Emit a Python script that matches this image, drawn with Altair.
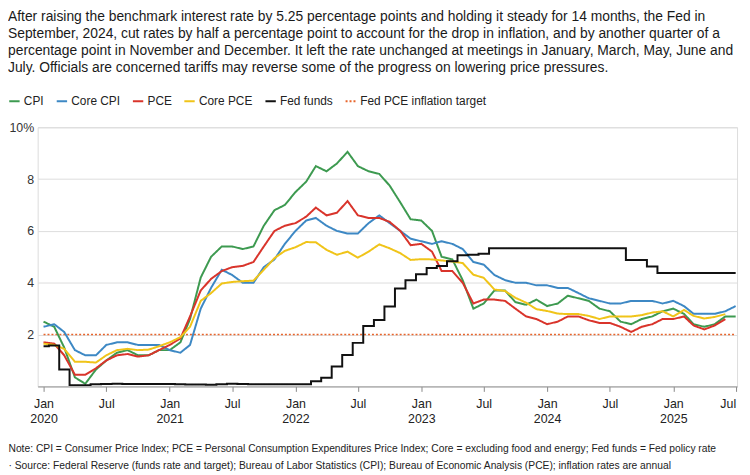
import altair as alt
import pandas as pd

# ---------------- data (monthly, Jan 2020 onward) ----------------
cpi = [2.5, 2.3, 1.5, 0.35, 0.1, 0.65, 1.0, 1.3, 1.4, 1.2, 1.2, 1.4,
       1.4, 1.7, 2.6, 4.2, 5.0, 5.4, 5.4, 5.3, 5.4, 6.2, 6.8, 7.0,
       7.5, 7.9, 8.5, 8.3, 8.6, 9.05, 8.5, 8.3, 8.2, 7.75, 7.1, 6.45,
       6.4, 6.0, 5.0, 4.9, 4.1, 3.0, 3.2, 3.7, 3.7, 3.25, 3.15, 3.35,
       3.1, 3.2, 3.5, 3.4, 3.3, 3.0, 2.9, 2.5, 2.4, 2.6, 2.7, 2.9,
       3.0, 2.8, 2.4, 2.3, 2.4, 2.7, 2.7]
core_cpi = [2.3, 2.4, 2.1, 1.4, 1.2, 1.2, 1.6, 1.7, 1.7, 1.6, 1.6, 1.6,
            1.4, 1.3, 1.6, 3.0, 3.8, 4.5, 4.3, 4.0, 4.0, 4.6, 4.9, 5.5,
            6.0, 6.4, 6.5, 6.2, 6.0, 5.9, 5.9, 6.3, 6.6, 6.3, 6.0, 5.7,
            5.6, 5.5, 5.6, 5.5, 5.3, 4.8, 4.7, 4.3, 4.1, 4.0, 4.0, 3.9,
            3.9, 3.8, 3.8, 3.6, 3.4, 3.3, 3.2, 3.2, 3.3, 3.3, 3.3, 3.2,
            3.3, 3.1, 2.8, 2.8, 2.8, 2.9, 3.1]
pce = [1.7, 1.65, 1.2, 0.45, 0.45, 0.7, 1.0, 1.2, 1.25, 1.15, 1.2, 1.4,
       1.6, 1.85, 2.7, 3.7, 4.15, 4.45, 4.6, 4.65, 4.8, 5.4, 6.0, 6.2,
       6.3, 6.55, 6.9, 6.6, 6.7, 7.15, 6.6, 6.5, 6.5, 6.35, 6.0, 5.45,
       5.5, 5.2, 4.45, 4.45, 4.0, 3.2, 3.35, 3.35, 3.3, 3.0, 2.7, 2.6,
       2.4, 2.5, 2.7, 2.7, 2.55, 2.45, 2.45, 2.3, 2.1, 2.3, 2.4, 2.6,
       2.6, 2.7, 2.35, 2.2, 2.35, 2.6]
core_pce = [1.65, 1.6, 1.45, 0.95, 0.95, 0.92, 1.2, 1.4, 1.45, 1.4, 1.42, 1.55,
            1.7, 1.9, 2.3, 3.3, 3.6, 3.97, 4.03, 4.06, 4.08, 4.5, 4.95, 5.23,
            5.37, 5.57, 5.56, 5.27, 5.08, 5.2, 4.97, 5.2, 5.48, 5.33, 5.14, 4.88,
            4.91, 4.9, 4.86, 4.82, 4.76, 4.31, 4.19, 3.74, 3.68, 3.42, 3.23, 2.98,
            2.91, 2.81, 2.79, 2.79, 2.72, 2.6, 2.7, 2.7, 2.7, 2.75, 2.85, 2.9,
            2.7, 2.95, 2.72, 2.62, 2.68, 2.79]
fed_funds = [1.55, 1.58, 0.65, 0.05, 0.05, 0.08, 0.09, 0.10, 0.09, 0.09, 0.09, 0.09,
             0.09, 0.08, 0.07, 0.07, 0.06, 0.08, 0.10, 0.09, 0.08, 0.08, 0.08, 0.08,
             0.08, 0.08, 0.20, 0.33, 0.77, 1.21, 1.68, 2.33, 2.56, 3.08, 3.78, 4.10,
             4.33, 4.57, 4.65, 4.83, 5.06, 5.08, 5.12, 5.33, 5.33, 5.33, 5.33, 5.33,
             5.33, 5.33, 5.33, 5.33, 5.33, 5.33, 5.33, 5.33, 4.88, 4.88, 4.63, 4.38,
             4.38, 4.38, 4.38, 4.38, 4.38, 4.38, 4.38]
target_value = 2.0

series_names = ["CPI", "Core CPI", "PCE", "Core PCE", "Fed funds", "Fed PCE inflation target"]
series_colors = ["#3d9a50", "#3d88c4", "#d9342b", "#f0c419", "#111111", "#e8652c"]
series_dashes = [[1, 0], [1, 0], [1, 0], [1, 0], [1, 0], [2, 2]]

title_lines = [
    "After raising the benchmark interest rate by 5.25 percentage points and holding it steady for 14 months, the Fed in",
    "September, 2024, cut rates by half a percentage point to account for the drop in inflation, and by another quarter of a",
    "percentage point in November and December. It left the rate unchanged at meetings in January, March, May, June and",
    "July. Officials are concerned tariffs may reverse some of the progress on lowering price pressures.",
]
footnote_lines = [
    "Note: CPI = Consumer Price Index; PCE = Personal Consumption Expenditures Price Index; Core = excluding food and energy; Fed funds = Fed policy rate",
    "\u00b7 Source: Federal Reserve (funds rate and target); Bureau of Labor Statistics (CPI); Bureau of Economic Analysis (PCE); inflation rates are annual",
]

# ---------------- tables ----------------
months = [f"{y}-{m:02d}-01T00:00:00" for y in range(2020, 2026) for m in range(1, 13)]

def long_table(name, vals):
    return pd.DataFrame({"date": months[:len(vals)], "value": vals, "series": name})

infl_df = pd.concat([long_table("CPI", cpi), long_table("Core CPI", core_cpi),
                     long_table("PCE", pce), long_table("Core PCE", core_pce)])
fed_df = long_table("Fed funds", fed_funds)
target_df = long_table("Fed PCE inflation target", [target_value] * len(fed_funds))

FONT = "Liberation Sans"
LEFT = 30

x_ticks = [alt.DateTime(year=y, month=m, date=1) for y in range(2020, 2026) for m in (1, 7)]

x_enc = alt.X(
    "date:T",
    scale=alt.Scale(domain=[alt.DateTime(year=2019, month=12, date=15),
                            alt.DateTime(year=2025, month=7, date=5)]),
    axis=alt.Axis(
        values=x_ticks,
        labelExpr="month(datum.value) == 0 ? ['Jan', '' + year(datum.value)] : 'Jul'",
        labelAlign={"condition": {"test": "year(datum.value) == 2025 && month(datum.value) == 6",
                                  "value": "right"}, "value": "center"},
        labelFontSize=12.5, labelFont=FONT, labelColor="#222222", labelLineHeight=15,
        labelPadding=6, tickSize=5, tickColor="#888888", domainColor="#999999",
        grid=False, labelAngle=0,
        title=footnote_lines, titleFont=FONT, titleFontSize=10.4, titleFontWeight="normal",
        titleColor="#222222", titleAlign="left", titleAnchor="start", titleBaseline="alphabetic",
        titleX=-LEFT, titleY=66, titleLineHeight=16.7,
    ),
)
y_enc = alt.Y(
    "value:Q",
    scale=alt.Scale(domain=[0, 10], nice=False),
    axis=alt.Axis(
        values=[0, 2, 4, 6, 8, 10],
        labelExpr="datum.value == 10 ? '10%' : (datum.value == 0 ? '' : datum.label)",
        labelFontSize=12.5, labelFont=FONT, labelColor="#333333", labelPadding=4,
        ticks=False, domain=False, grid=True, gridColor="#dddddd", gridWidth=1,
        title=None,
    ),
)
legend_opts = dict(
    title=None, orient="none", legendX=-LEFT, legendY=-33, direction="horizontal",
    symbolType="stroke", symbolSize=110, symbolStrokeWidth=2,
    labelFont=FONT, labelFontSize=12, labelColor="#222222",
    labelOffset=3, columnPadding=8,
)
color_enc = alt.Color(
    "series:N",
    scale=alt.Scale(domain=series_names, range=series_colors),
    legend=alt.Legend(**legend_opts),
)
dash_enc = alt.StrokeDash(
    "series:N",
    scale=alt.Scale(domain=series_names, range=series_dashes),
    legend=alt.Legend(**legend_opts),
)

target = alt.Chart(target_df).mark_line(strokeWidth=1.6).encode(
    x=x_enc, y=y_enc, color=color_enc, strokeDash=dash_enc)
infl = alt.Chart(infl_df).mark_line(strokeWidth=2).encode(
    x=x_enc, y=y_enc, color=color_enc, strokeDash=dash_enc, detail="series:N")
fed = alt.Chart(fed_df).mark_line(strokeWidth=2, interpolate="step").encode(
    x=x_enc, y=y_enc, color=color_enc, strokeDash=dash_enc)

chart = alt.layer(target, infl, fed).properties(
    width=707, height=262,
    autosize=alt.AutoSizeParams(type="none"),
    padding={"left": LEFT, "top": 118, "right": 5, "bottom": 86},
    title=alt.TitleParams(
        text=title_lines, anchor="start", frame="group", dx=-LEFT, offset=20,
        font=FONT, fontSize=14, fontWeight="normal", color="#1a1a1a", lineHeight=17.3,
    ),
).configure_view(stroke=None).configure(background="white")

chart.save("out.html", embed_options={"renderer": "svg", "actions": False})
